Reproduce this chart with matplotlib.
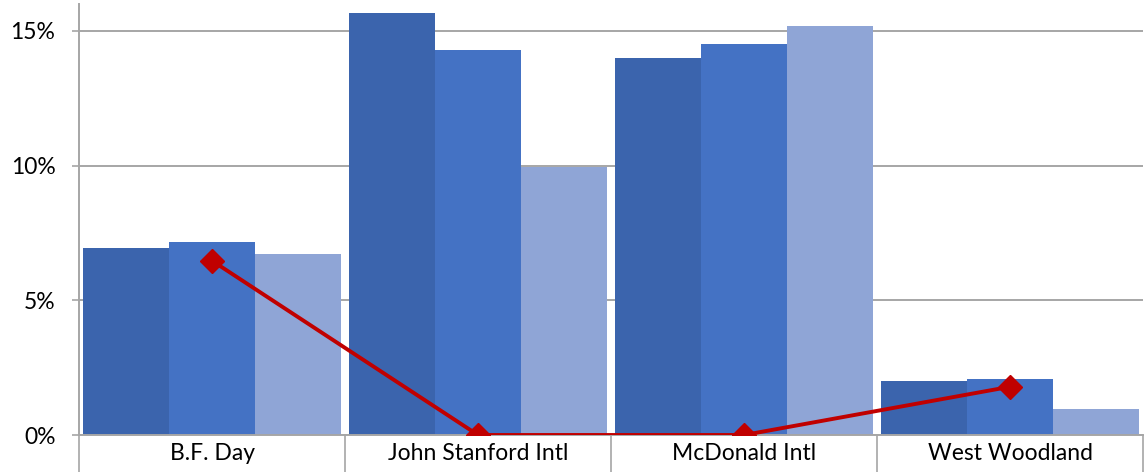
import matplotlib.pyplot as plt
import numpy as np
from matplotlib.ticker import FixedLocator, PercentFormatter

# Data (values in %)
schools = ['B.F. Day', 'John Stanford Intl', 'McDonald Intl', 'West Woodland']
series_a = [6.94, 15.67, 14.00, 2.02]
series_b = [7.16, 14.31, 14.52, 2.09]
series_c = [6.73, 9.95, 15.19, 0.98]
line_vals = [6.47, 0.0, 0.0, 1.79]

bar_colors = ['#3B64AD', '#4472C4', '#8FA5D6']
line_color = '#C00000'
grid_color = '#A6A6A6'

plt.rcParams['font.family'] = ['Lato', 'DejaVu Sans']

fig = plt.figure(figsize=(11.48, 4.72), dpi=100)
ax = fig.add_axes([79 / 1148, 1 - 435 / 472, (1143 - 79) / 1148, (435 - 4) / 472])

x = np.arange(len(schools))
width = 0.323
for i, (vals, col) in enumerate(zip([series_a, series_b, series_c], bar_colors)):
    ax.bar(x + (i - 1) * width, vals, width=width, color=col, zorder=2)

ax.plot(x, line_vals, color=line_color, linewidth=2.8, marker='D',
        markersize=12, zorder=3)

ax.set_xlim(-0.5, len(schools) - 0.5)
ax.set_ylim(0, 16)

# y axis
ax.yaxis.set_major_locator(FixedLocator([0, 5, 10, 15]))
ax.yaxis.set_major_formatter(PercentFormatter(decimals=0))
ax.grid(axis='y', color=grid_color, linewidth=1.4, zorder=0)
ax.tick_params(axis='y', length=5, width=1.2, color=grid_color, pad=12,
               labelsize=16.5)

# x axis: boundaries as long ticks, labels on centres
ax.xaxis.set_major_locator(FixedLocator(np.arange(len(schools) + 1) - 0.5))
ax.xaxis.set_minor_locator(FixedLocator(x))
ax.xaxis.set_major_formatter(plt.NullFormatter())
ax.set_xticks(x, schools, minor=True)
ax.tick_params(axis='x', which='major', length=28, width=1.2,
               color=grid_color)
ax.tick_params(axis='x', which='minor', length=0, pad=6, labelsize=16.5)

for side in ['top', 'right']:
    ax.spines[side].set_visible(False)
for side in ['left', 'bottom']:
    ax.spines[side].set_color(grid_color)
    ax.spines[side].set_linewidth(1.4)

fig.savefig('out.png', dpi=100)
